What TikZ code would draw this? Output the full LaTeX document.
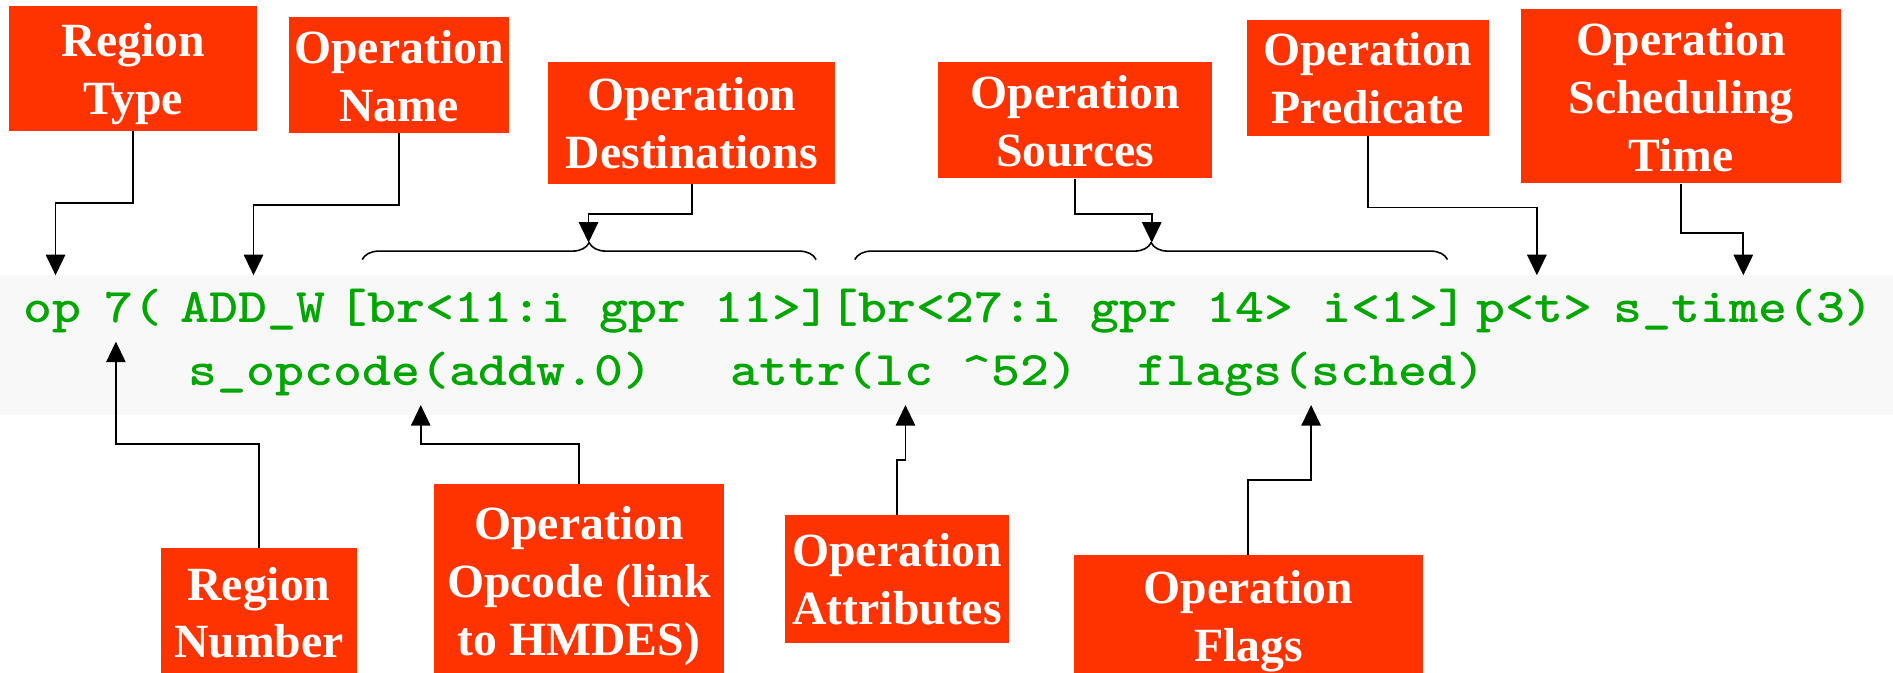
\documentclass[tikz,border=0pt]{standalone}
\usepackage{fontspec}
\usepackage{graphicx}
\newfontfamily\boxfont{Liberation Serif}
\usetikzlibrary{arrows.meta,decorations.pathreplacing}
\definecolor{boxred}{RGB}{255,51,0}
\definecolor{codegreen}{RGB}{0,165,0}
\definecolor{bandgray}{RGB}{248,248,248}
\newcommand{\cd}[1]{\scalebox{1.1429}[1]{#1}}
\newcommand{\ls}{\rule[-10pt]{0pt}{48pt}}
\begin{document}
\begin{tikzpicture}[x=1pt,y=-1pt,
  lbl/.style={fill=boxred, text=white, inner sep=0pt, align=center,
    font=\boxfont\bfseries\fontsize{39.5}{48}\selectfont},
  code/.style={text=codegreen, inner sep=0pt, anchor=base west,
    font=\ttfamily\bfseries\fontsize{40}{48}\selectfont},
  conn/.style={draw=black, line width=1.5pt, -{Triangle[length=17pt,width=16pt]}},
  brc/.style={draw=black, line width=1.3pt, decorate, decoration={brace, amplitude=14pt}}]
\clip (0,0) rectangle (1568,557);
\fill[white] (0,0) rectangle (1568,557);
\fill[bandgray] (0,228) rectangle (1568,344);

% code text
\node[code] (c1) at (19,267) {\cd{op}};
\node[code] (c2) at (86,267) {\cd{7(}};
\node[code] (c3) at (149,267) {\cd{ADD\_W}};
\node[code] (c4) at (280,267) {\cd{[br<11:i gpr 11>]}};
\node[code] (c5) at (687,267) {\cd{[br<27:i gpr 14> i<1>]}};
\node[code] (c6) at (1223,267) {\cd{p<t>}};
\node[code] (c7) at (1336,267) {\cd{s\_time(3)}};
\node[code] (c8) at (156,319) {\cd{s\_opcode(addw.0)}};
\node[code] (c9) at (605,319) {\cd{attr(lc \textasciicircum52)}};
\node[code] (c10) at (942,319) {\cd{flags(sched)}};

% boxes
\node[lbl, minimum width=205.5pt, minimum height=103.5pt] (rtype) at (110.25,56.75) {\ls Region\\\ls Type};
\node[lbl, minimum width=183pt, minimum height=92.5pt] (oname) at (330.5,62.25) {\ls Operation\\\ls Name};
\node[lbl, minimum width=238pt, minimum height=101pt] (odest) at (573,101.5) {\ls Operation\\\ls Destinations};
\node[lbl, minimum width=227pt, minimum height=88.5pt] (osrc) at (890.5,99.75) {\ls Operation\\\ls Sources};
\node[lbl, minimum width=200pt, minimum height=88.5pt] (opred) at (1133,64.25) {\ls Operation\\\ls Predicate};
\node[lbl, minimum width=265pt, minimum height=136.4pt] (osched) at (1392.5,79.8) {\ls Operation\\\ls Scheduling\\\ls Time};
\node[lbl, minimum width=163pt, minimum height=106pt] (rnum) at (214.5,507) {\ls Region\\\ls Number};
\node[lbl, minimum width=240.2pt, minimum height=160pt] (oopc) at (479.6,481) {\ls Operation\\\ls Opcode (link\\\ls to HMDES)};
\node[lbl, minimum width=186pt, minimum height=106pt] (oattr) at (743,479.5) {\ls Operation\\\ls Attributes};
\node[lbl, minimum width=289pt, minimum height=100.6pt] (oflags) at (1034,510) {\ls Operation\\\ls Flags};

% targets
\coordinate (a1) at (46,228);
\coordinate (a2) at (210,228);
\coordinate (dcusp) at (487.5,201);
\coordinate (scusp) at (954,201);
\coordinate (a5) at (1273,228);
\coordinate (a6) at (1444,228);
\coordinate (a7) at (96,283);
\coordinate (a8) at (348.5,335.5);
\coordinate (a9) at (750,335.5);
\coordinate (a10) at (1086,335.5);

% braces
\coordinate (bd1) at (300,215);
\coordinate (bd2) at (676,215);
\coordinate (bs1) at (708,215);
\coordinate (bs2) at (1199,215);
\draw[brc] (bd1) -- (bd2);
\draw[brc] (bs1) -- (bs2);

% connectors
\draw[conn] (rtype.south) -- ++(0,59.5) -| (a1);
\draw[conn] (oname.south) -- ++(0,59.5) -| (a2);
\draw[conn] (odest.south) -- ++(0,25) -| (dcusp);
\draw[conn] (osrc.south) -- ++(0,29) -| (scusp);
\draw[conn] (opred.south) -- ++(0,59.5) -| (a5);
\draw[conn] (osched.south) -- ++(0,41) -| (a6);
\draw[conn] (rnum.north) -- ++(0,-86) -| (a7);
\draw[conn] (oopc.north) -- ++(0,-33) -| (a8);
\draw[conn] (oattr.north) -- ++(0,-45.6) -| (a9);
\draw[conn] (oflags.north) -- ++(0,-62.1) -| (a10);
\end{tikzpicture}
\end{document}
